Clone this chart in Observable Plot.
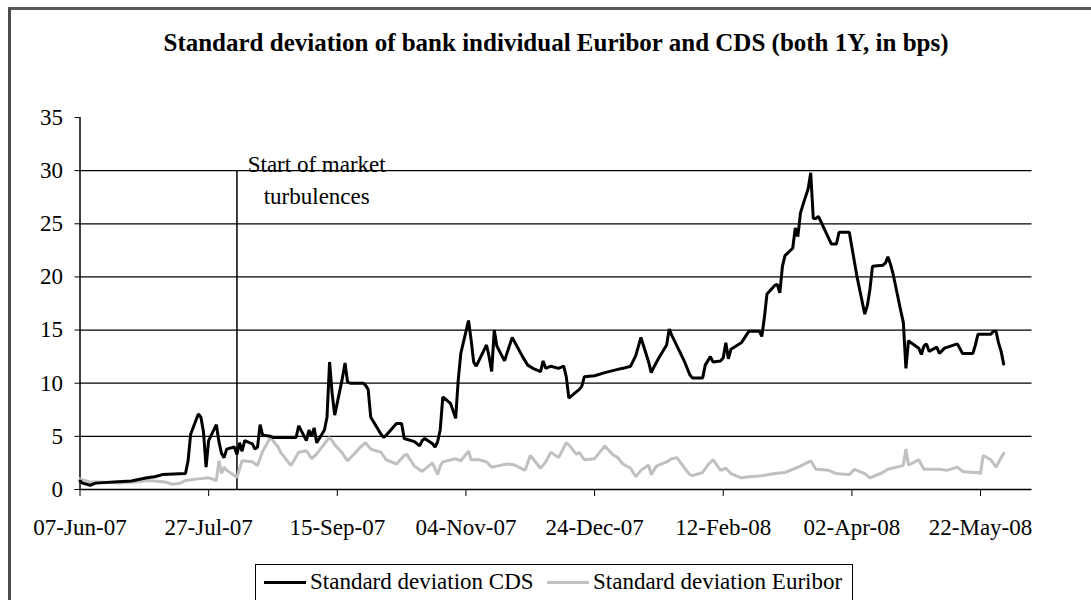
<!DOCTYPE html>
<html>
<head>
<meta charset="utf-8">
<script src="https://cdn.jsdelivr.net/npm/d3@7"></script>
<script src="https://cdn.jsdelivr.net/npm/@observablehq/plot@0.6"></script>
<style>
  html, body { margin: 0; padding: 0; background: #fff; }
  #wrap { position: relative; width: 1091px; height: 600px; overflow: hidden; background: #fff;
          font-family: "Liberation Serif", "Times New Roman", serif; color: #000; }
  #frame { position: absolute; left: 8px; top: 7px; width: 1200px; height: 700px;
           border-left: 3px solid #4d4d4d; border-top: 3px solid #5a5a5a; box-sizing: border-box; }
  #title { position: absolute; left: 0; top: 30px; width: 1112px; text-align: center;
           font-weight: bold; font-size: 25px; line-height: 25px; white-space: nowrap; }
  #chart { position: absolute; left: 0; top: 0; }
  #legend { position: absolute; left: 255px; top: 564px; width: 598px; height: 60px;
            border: 1.5px solid #000; box-sizing: border-box; }
  .item { position: absolute; top: 3px; height: 28px; display: flex; align-items: center;
          font-size: 23px; line-height: 28px; white-space: nowrap; }
  .swatch { display: inline-block; width: 42px; height: 3px; margin-right: 4px; }
</style>
</head>
<body>
<div id="wrap">
  <div id="frame"></div>
  <div id="chart"></div>
  <div id="title"></div>
  <div id="legend"></div>
</div>
<script>
// ---------------- data ----------------
const chartTitle = "Standard deviation of bank individual Euribor and CDS (both 1Y, in bps)";
const seriesNames = ["Standard deviation CDS", "Standard deviation Euribor"];
const seriesColors = ["#000000", "#c0c0c0"];

const cdsDates = [
  "2007-06-07","2007-06-08","2007-06-11","2007-06-13","2007-06-20","2007-06-27",
  "2007-07-03","2007-07-06","2007-07-09","2007-07-18","2007-07-19","2007-07-20","2007-07-23","2007-07-24","2007-07-25","2007-07-26","2007-07-27","2007-07-30","2007-07-31",
  "2007-08-01","2007-08-02","2007-08-03","2007-08-06","2007-08-07","2007-08-08","2007-08-09","2007-08-10","2007-08-13","2007-08-14","2007-08-15","2007-08-16","2007-08-17","2007-08-20","2007-08-21","2007-08-30","2007-08-31",
  "2007-09-03","2007-09-04","2007-09-05","2007-09-06","2007-09-07","2007-09-10","2007-09-11","2007-09-12","2007-09-13","2007-09-14","2007-09-17","2007-09-18","2007-09-19","2007-09-20","2007-09-25","2007-09-26","2007-09-27","2007-09-28",
  "2007-10-01","2007-10-02","2007-10-03","2007-10-04","2007-10-08","2007-10-10","2007-10-11","2007-10-15","2007-10-17","2007-10-18","2007-10-19","2007-10-22","2007-10-23","2007-10-24","2007-10-25","2007-10-26","2007-10-29","2007-10-30","2007-10-31",
  "2007-11-01","2007-11-02","2007-11-05","2007-11-06","2007-11-07","2007-11-08","2007-11-12","2007-11-13","2007-11-14","2007-11-15","2007-11-16","2007-11-19","2007-11-21","2007-11-22","2007-11-26","2007-11-28","2007-11-30",
  "2007-12-03","2007-12-04","2007-12-05","2007-12-07","2007-12-10","2007-12-12","2007-12-13","2007-12-14","2007-12-17","2007-12-18","2007-12-19","2007-12-20","2007-12-24","2007-12-28",
  "2008-01-02","2008-01-04","2008-01-07","2008-01-09","2008-01-11","2008-01-14","2008-01-15","2008-01-16","2008-01-18","2008-01-21","2008-01-22","2008-01-23","2008-01-24","2008-01-28","2008-01-30","2008-01-31",
  "2008-02-04","2008-02-05","2008-02-07","2008-02-08","2008-02-11","2008-02-12","2008-02-13","2008-02-14","2008-02-15","2008-02-19","2008-02-22","2008-02-26","2008-02-27","2008-02-28","2008-02-29",
  "2008-03-03","2008-03-04","2008-03-05","2008-03-06","2008-03-07","2008-03-10","2008-03-11","2008-03-12","2008-03-13","2008-03-14","2008-03-16","2008-03-17","2008-03-18","2008-03-19","2008-03-20","2008-03-25","2008-03-27","2008-03-28",
  "2008-04-01","2008-04-02","2008-04-04","2008-04-07","2008-04-08","2008-04-09","2008-04-10","2008-04-14","2008-04-15","2008-04-16","2008-04-17","2008-04-18","2008-04-21","2008-04-22","2008-04-23","2008-04-24","2008-04-25","2008-04-28","2008-04-29","2008-04-30",
  "2008-05-01","2008-05-02","2008-05-05","2008-05-06","2008-05-08","2008-05-13","2008-05-15","2008-05-19","2008-05-20","2008-05-21","2008-05-26","2008-05-27","2008-05-28","2008-05-29","2008-05-30","2008-05-31"
];
const cdsValues = [
  0.8,0.6,0.4,0.6,0.7,0.8,
  1.1,1.2,1.4,1.5,2.7,5.2,7.1,6.8,5.4,2.1,4.6,6.1,4.5,
  3.4,3.0,3.8,4.0,3.3,4.4,3.6,4.6,4.3,3.8,4.0,6.1,5.1,5.0,4.9,4.9,6.0,
  4.6,5.6,5.0,5.8,4.4,5.6,6.8,12.0,9.0,7.0,10.5,11.9,10.1,10.0,10.0,9.8,9.4,6.8,
  5.6,5.2,4.9,5.1,6.2,6.2,4.8,4.5,4.1,4.6,4.8,4.3,4.0,4.5,5.6,8.7,8.1,7.4,6.7,
  10.3,12.8,15.9,14.1,12.0,11.6,13.6,12.5,11.1,15.0,13.5,12.1,13.6,14.3,12.5,11.7,11.4,
  11.1,12.1,11.4,11.6,11.4,11.6,10.6,8.6,9.2,9.4,9.7,10.6,10.7,11.0,
  11.3,11.4,11.6,12.6,14.3,12.0,11.0,11.5,12.4,13.6,15.1,14.5,14.0,12.0,10.8,10.5,
  10.5,11.7,12.5,12.0,12.1,12.4,13.8,12.3,13.2,13.8,14.9,14.9,14.4,16.2,18.4,
  19.2,19.3,18.5,21.0,22.0,22.7,24.6,23.8,26.0,26.8,28.3,29.8,25.5,25.5,25.7,23.1,23.1,24.2,
  24.2,22.8,20.0,16.5,17.3,18.8,21.0,21.1,21.3,21.9,21.2,20.3,16.8,15.7,11.4,14.0,13.8,13.3,12.7,13.5,
  13.7,13.0,13.4,12.8,13.3,13.7,12.8,12.8,13.6,14.6,14.6,14.9,14.9,13.8,13.0,11.8
];

const euriborDates = [
  "2007-06-07","2007-06-08","2007-06-11","2007-06-15","2007-06-22","2007-06-29",
  "2007-07-03","2007-07-06","2007-07-10","2007-07-13","2007-07-16","2007-07-18","2007-07-23","2007-07-27","2007-07-30","2007-07-31",
  "2007-08-01","2007-08-02","2007-08-03","2007-08-07","2007-08-09","2007-08-13","2007-08-15","2007-08-17","2007-08-20","2007-08-21","2007-08-23","2007-08-24","2007-08-28","2007-08-31",
  "2007-09-03","2007-09-05","2007-09-07","2007-09-10","2007-09-12","2007-09-13","2007-09-14","2007-09-17","2007-09-19","2007-09-21","2007-09-24","2007-09-26","2007-09-27","2007-09-28",
  "2007-10-02","2007-10-04","2007-10-08","2007-10-11","2007-10-12","2007-10-15","2007-10-18","2007-10-22","2007-10-24","2007-10-25","2007-10-26","2007-10-31",
  "2007-11-02","2007-11-05","2007-11-06","2007-11-09","2007-11-12","2007-11-14","2007-11-16","2007-11-20","2007-11-23","2007-11-27","2007-11-29",
  "2007-12-03","2007-12-05","2007-12-07","2007-12-10","2007-12-13","2007-12-14","2007-12-17","2007-12-18","2007-12-20","2007-12-24","2007-12-28","2007-12-31",
  "2008-01-02","2008-01-04","2008-01-07","2008-01-09","2008-01-11","2008-01-14","2008-01-15","2008-01-17","2008-01-21","2008-01-23","2008-01-25","2008-01-28","2008-01-30","2008-01-31",
  "2008-02-04","2008-02-06","2008-02-08","2008-02-11","2008-02-13","2008-02-15","2008-02-19","2008-02-22","2008-02-27",
  "2008-03-03","2008-03-07","2008-03-11","2008-03-13","2008-03-17","2008-03-19","2008-03-24","2008-03-27",
  "2008-04-01","2008-04-03","2008-04-07","2008-04-09","2008-04-14","2008-04-16","2008-04-21","2008-04-22","2008-04-23","2008-04-24","2008-04-28","2008-04-30",
  "2008-05-06","2008-05-09","2008-05-13","2008-05-15","2008-05-19","2008-05-21","2008-05-22","2008-05-23","2008-05-26","2008-05-28","2008-05-30","2008-05-31"
];
const euriborValues = [
  1.0,0.9,0.7,0.7,0.6,0.7,
  0.85,0.8,0.7,0.5,0.6,0.85,1.0,1.1,0.85,2.7,
  1.5,2.1,1.8,1.15,2.7,2.6,2.25,3.6,4.9,4.6,4.0,3.5,2.25,3.5,
  3.65,2.9,3.35,4.3,4.9,4.6,4.2,3.4,2.7,3.2,4.0,4.4,4.1,3.8,
  3.5,2.8,2.4,3.2,3.3,2.2,1.7,2.5,1.4,2.2,2.6,2.9,
  2.7,3.6,2.8,2.8,2.6,2.1,2.2,2.4,2.3,1.8,3.2,
  2.0,2.6,3.5,3.0,4.4,4.2,3.3,3.5,2.8,2.9,4.1,3.3,
  3.0,2.4,2.0,1.2,1.8,2.3,1.4,2.2,2.6,2.9,3.0,2.0,1.4,1.3,
  1.6,2.3,2.8,1.8,2.0,1.5,1.1,1.2,1.3,
  1.5,1.6,2.0,2.2,2.7,1.9,1.8,1.5,
  1.4,1.9,1.5,1.1,1.6,1.9,2.2,2.3,3.8,2.3,2.8,1.9,
  1.9,1.8,2.1,1.7,1.6,1.6,1.5,3.2,2.8,2.1,3.0,3.4
];

const xDomain = ["2007-06-07", "2008-06-11"];
const xTickDates = ["2007-06-07","2007-07-27","2007-09-15","2007-11-04","2007-12-24","2008-02-12","2008-04-02","2008-05-22"];
const yTicks = [0, 5, 10, 15, 20, 25, 30, 35];
const gridValues = [5, 10, 15, 20, 25, 30];
const eventDates = ["2007-08-07"];
const eventTop = [30];
const noteDates = ["2007-09-07"];
const noteLevels = [32];
const noteTexts = ["Start of market\nturbulences"];

// ---------------- build ----------------
const parse = d3.utcParse("%Y-%m-%d");
const cds = cdsDates.map((d, i) => ({date: parse(d), value: cdsValues[i]}));
const eur = euriborDates.map((d, i) => ({date: parse(d), value: euriborValues[i]}));
const events = eventDates.map((d, i) => ({date: parse(d), top: eventTop[i]}));
const notes = noteDates.map((d, i) => ({date: parse(d), level: noteLevels[i], text: noteTexts[i]}));
const fmt = d3.utcFormat("%d-%b-%y");

const plot = Plot.plot({
  width: 1091,
  height: 600,
  marginLeft: 79.5,
  marginRight: 59.5,
  marginTop: 117,
  marginBottom: 111,
  style: {fontFamily: '"Liberation Serif", "Times New Roman", serif', fontSize: "23px", color: "#000", background: "transparent", overflow: "visible"},
  x: {type: "utc", domain: xDomain.map(parse)},
  y: {domain: [0, 35]},
  marks: [
    Plot.ruleY(gridValues, {stroke: "#000", strokeWidth: 1.3}),
    Plot.ruleY([0], {stroke: "#000", strokeWidth: 1.5}),
    Plot.ruleX([parse(xDomain[0])], {y1: 0, y2: 35, stroke: "#000", strokeWidth: 1.5}),
    Plot.ruleX(events, {x: "date", y1: 0, y2: "top", stroke: "#000", strokeWidth: 1.5}),
    Plot.axisY({ticks: yTicks, tickSize: 5, tickPadding: 12, tickFormat: d => String(d), label: null, fontSize: 23}),
    Plot.axisX({ticks: xTickDates.map(parse), tickFormat: fmt, tickSize: 7, tickPadding: 22, label: null, fontSize: 23}),
    Plot.line(eur, {x: "date", y: "value", stroke: seriesColors[1], strokeWidth: 3, strokeLinejoin: "miter"}),
    Plot.line(cds, {x: "date", y: "value", stroke: seriesColors[0], strokeWidth: 3, strokeLinejoin: "miter"}),
    Plot.text(notes, {x: "date", y: "level", text: "text", textAnchor: "middle", lineAnchor: "top", lineHeight: 1.39, fontSize: 23, fill: "#000"})
  ]
});
document.getElementById("chart").appendChild(plot);

document.getElementById("title").textContent = chartTitle;

const legend = document.getElementById("legend");
const lefts = [8, 291];
seriesNames.forEach((name, i) => {
  const item = document.createElement("div");
  item.className = "item";
  item.style.left = lefts[i] + "px";
  const sw = document.createElement("span");
  sw.className = "swatch";
  sw.style.background = seriesColors[i];
  const tx = document.createElement("span");
  tx.textContent = name;
  item.appendChild(sw);
  item.appendChild(tx);
  legend.appendChild(item);
});
</script>
</body>
</html>
